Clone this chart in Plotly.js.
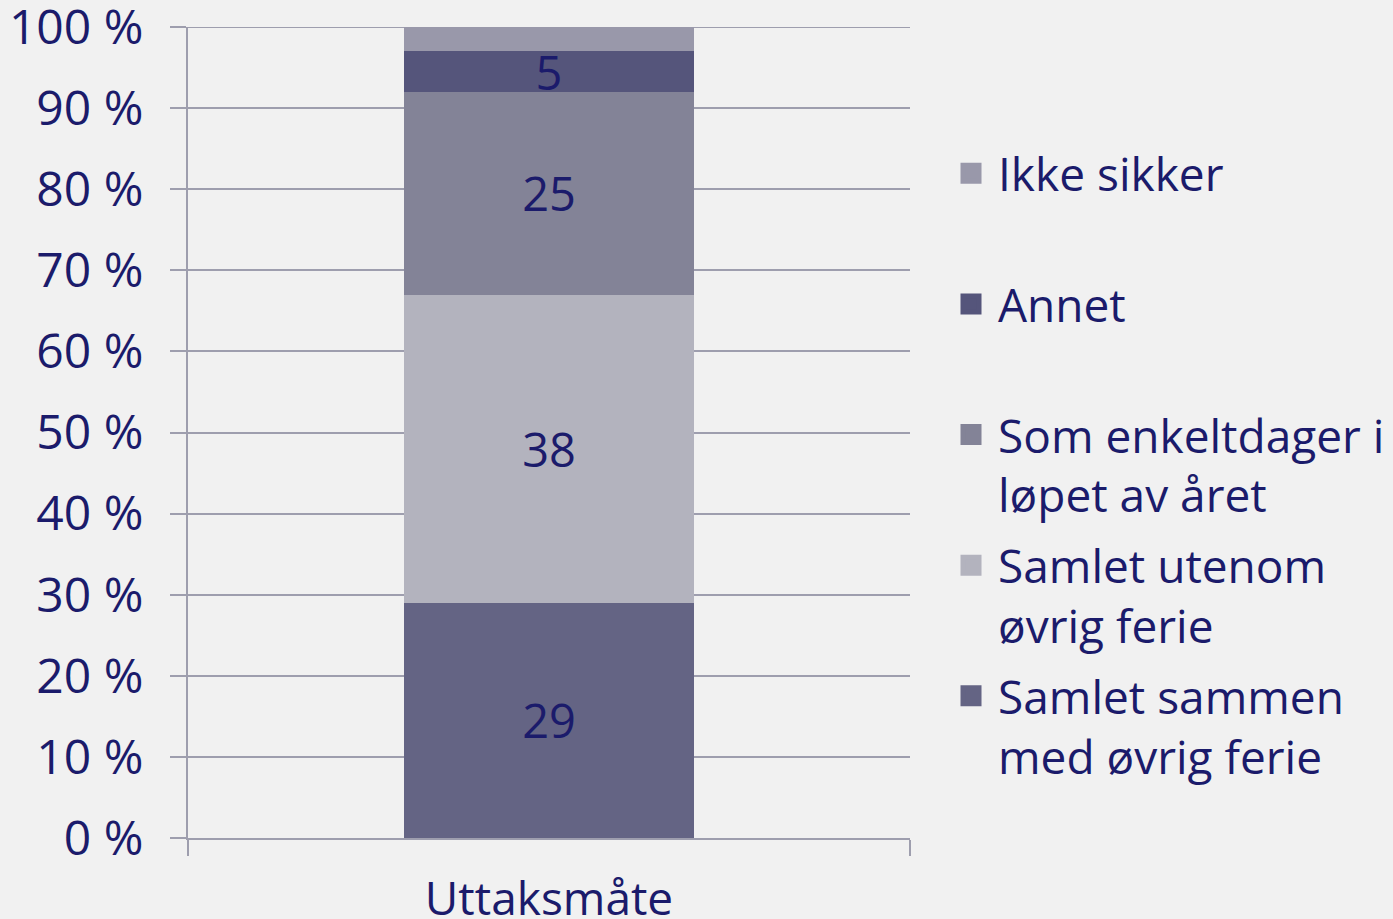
<!DOCTYPE html>
<html>
<head>
<meta charset="utf-8">
<script src="https://cdn.plot.ly/plotly-3.0.1.min.js"></script>
<style>html,body{margin:0;padding:0;background:#f1f1f1;}#chart{width:1393px;height:919px;}</style>
</head>
<body>
<div id="chart"></div>
<script>
const categories = ['Uttaksmåte'];
const seriesNames = ['Samlet sammen<br>med øvrig ferie', 'Samlet utenom<br>øvrig ferie', 'Som enkeltdager i<br>løpet av året', 'Annet<br> ', 'Ikke sikker<br> '];
const seriesValues = [[29], [38], [25], [5], [3]];
const seriesLabels = [['29'], ['38'], ['25'], ['5'], ['']];
const seriesColors = ['#646484', '#b3b3be', '#838397', '#55557b', '#9998aa'];
const yTickVals = [0, 10, 20, 30, 40, 50, 60, 70, 80, 90, 100];
const yTickText = ['0 %', '10 %', '20 %', '30 %', '40 %', '50 %', '60 %', '70 %', '80 %', '90 %', '100 %'];

const navy = '#1b1b6b';
const grid = '#9e9eae';
const fontFam = '"Open Sans", "Noto Sans", sans-serif';

const barTraces = seriesNames.map((name, i) => ({
  type: 'bar',
  name: name,
  x: categories,
  y: seriesValues[i],
  text: seriesLabels[i],
  textposition: 'inside',
  insidetextanchor: 'middle',
  textangle: 0,
  constraintext: 'none',
  textfont: {family: fontFam, size: 47, color: navy},
  marker: {color: seriesColors[i], line: {width: 0}},
  width: 0.402,
  showlegend: false,
  hoverinfo: 'skip'
}));

// legend-only entries (same names/colours) as square markers, top of stack listed first
const legendTraces = seriesNames.map((name, i) => ({
  type: 'scatter',
  mode: 'markers',
  name: name,
  x: [null],
  y: [null],
  legendgroup: 'g' + i,
  marker: {symbol: 'square', size: 16, color: seriesColors[i], line: {width: 5, color: seriesColors[i]}},
  showlegend: true,
  hoverinfo: 'skip'
})).reverse();

const layout = {
  width: 1393,
  height: 919,
  paper_bgcolor: '#f1f1f1',
  plot_bgcolor: '#f1f1f1',
  barmode: 'stack',
  font: {family: fontFam, size: 46, color: navy},
  margin: {l: 188, r: 483, t: 27, b: 81, pad: 0, autoexpand: false},
  showlegend: true,
  legend: {
    x: 1.0471, xanchor: 'left', y: 0.8644, yanchor: 'top',
    traceorder: 'grouped',
    valign: 'top',
    itemwidth: 44,
    font: {family: fontFam, size: 46, color: navy},
    bgcolor: 'rgba(0,0,0,0)',
    borderwidth: 0,
    tracegroupgap: 8
  },
  xaxis: {
    type: 'category',
    range: [-0.5, 0.5],
    tickson: 'boundaries',
    ticks: 'outside',
    ticklen: 16,
    tickwidth: 2,
    tickcolor: grid,
    showline: true,
    linecolor: grid,
    linewidth: 2,
    showgrid: false,
    ticklabelstandoff: 20,
    ticklabeloverflow: 'allow',
    tickfont: {family: fontFam, size: 46, color: navy}
  },
  yaxis: {
    range: [0, 100],
    tickvals: yTickVals,
    ticktext: yTickText,
    ticks: 'outside',
    ticklen: 16,
    tickwidth: 2,
    tickcolor: grid,
    showline: true,
    linecolor: grid,
    linewidth: 2,
    showgrid: true,
    gridcolor: grid,
    gridwidth: 2,
    zeroline: false,
    ticklabelstandoff: 17,
    ticklabeloverflow: 'allow',
    tickfont: {family: fontFam, size: 48, color: navy}
  },
  shapes: [{
    type: 'line', xref: 'paper', yref: 'y', x0: 0, x1: 1, y0: 100, y1: 100,
    line: {color: grid, width: 2}, layer: 'below'
  }]
};

Plotly.newPlot('chart', barTraces.concat(legendTraces), layout, {displayModeBar: false, staticPlot: true});
</script>
</body>
</html>
